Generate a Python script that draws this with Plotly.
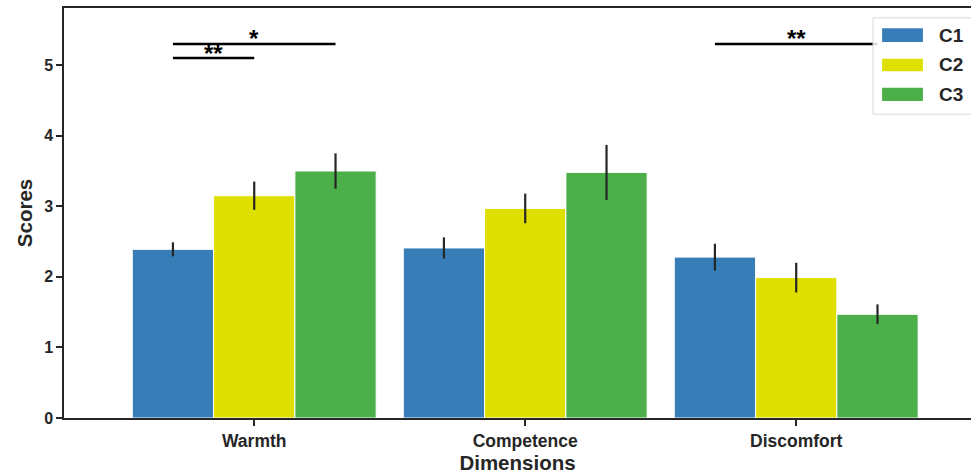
import plotly.graph_objects as go

categories = ["Warmth", "Competence", "Discomfort"]
series_names = ["C1", "C2", "C3"]
c1_values = [2.39, 2.41, 2.28]
c2_values = [3.15, 2.97, 1.99]
c3_values = [3.50, 3.48, 1.47]
c1_err = [0.10, 0.15, 0.19]
c2_err = [0.20, 0.21, 0.21]
c3_err = [0.25, 0.39, 0.14]
y_ticks = [0, 1, 2, 3, 4, 5]

# significance brackets (x in category units, y in score units)
sig_x0 = [-0.3, -0.3, 1.7]
sig_x1 = [0.0, 0.3, 2.3]
sig_y = [5.1, 5.3, 5.3]
sig_label = ["**", "*", "**"]

colors = ["#377eb8", "#dfdf00", "#4daf4a"]
values = [c1_values, c2_values, c3_values]
errs = [c1_err, c2_err, c3_err]
FONT = "Liberation Sans, Arial, sans-serif"

fig = go.Figure()
xs = list(range(len(categories)))
for name, vals, er, col in zip(series_names, values, errs, colors):
    fig.add_trace(go.Bar(
        x=xs, y=vals, name=name,
        marker=dict(color=col, line=dict(color="white", width=1)),
        error_y=dict(type="data", array=er, visible=True, color="#262626",
                     thickness=2.2, width=0),
        showlegend=False, hoverinfo="skip",
    ))

for x0, x1, y, lab in zip(sig_x0, sig_x1, sig_y, sig_label):
    fig.add_shape(type="line", x0=x0, x1=x1, y0=y, y1=y, xref="x", yref="y",
                  line=dict(color="black", width=2.5))
    fig.add_annotation(x=(x0 + x1) / 2, y=y, text="<b>%s</b>" % lab, showarrow=False,
                       xref="x", yref="y", yanchor="middle", yshift=5,
                       font=dict(family=FONT, size=24, color="black"))

# legend box (drawn manually to match wide patches)
fig.add_shape(type="rect", xref="paper", yref="paper", x0=0.892, x1=1.02,
              y0=0.741, y1=0.976, fillcolor="rgba(255,255,255,0.85)",
              line=dict(color="#d9d9d9", width=1))
patch_y = [(0.917, 0.9505), (0.8456, 0.8764), (0.7732, 0.8056)]
for (y0, y1), name, col in zip(patch_y, series_names, colors):
    fig.add_shape(type="rect", xref="paper", yref="paper", x0=0.902, x1=0.947,
                  y0=y0, y1=y1, fillcolor=col, line=dict(color=col, width=0))
    fig.add_annotation(xref="paper", yref="paper", x=0.962, y=(y0 + y1) / 2,
                       text="<b>%s</b>" % name, showarrow=False, xanchor="left",
                       yanchor="middle", font=dict(family=FONT, size=19, color="#262626"))

fig.update_layout(
    width=971, height=476,
    margin=dict(l=64, r=0, t=8, b=58),
    paper_bgcolor="white", plot_bgcolor="white",
    barmode="group", bargap=0.1, bargroupgap=0,
    font=dict(family=FONT, color="#262626"),
)
fig.update_xaxes(
    range=[-0.702, 2.645], tickvals=xs, ticktext=["<b>%s</b>" % c for c in categories],
    tickfont=dict(size=17.5, color="#262626"),
    ticks="outside", ticklen=6, tickwidth=1.5, tickcolor="#262626",
    showline=True, linecolor="#262626", linewidth=1.5, mirror=True,
    showgrid=False, zeroline=False,
    title=dict(text="<b>Dimensions</b>", font=dict(size=20.5, color="#262626"), standoff=2),
)
fig.update_yaxes(
    range=[0, 5.81], tickvals=y_ticks, ticktext=["<b>%d</b>" % t for t in y_ticks],
    tickfont=dict(size=16, color="#262626"),
    ticks="outside", ticklen=6, tickwidth=1.5, tickcolor="#262626",
    showline=True, linecolor="#262626", linewidth=1.5, mirror=False,
    showgrid=False, zeroline=False,
    title=dict(text="<b>Scores</b>", font=dict(size=20.5, color="#262626"), standoff=6),
)
fig.write_html("out.html", config={"displayModeBar": False},
               post_script="document.body.style.margin='0';")
